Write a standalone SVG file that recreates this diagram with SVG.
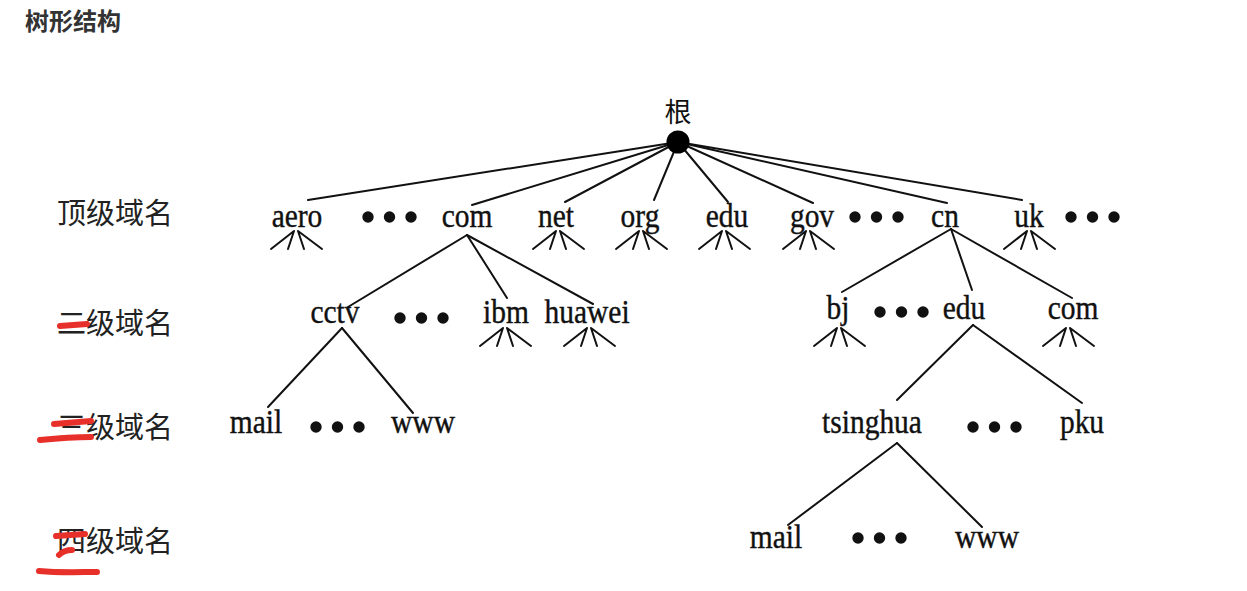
<svg xmlns="http://www.w3.org/2000/svg" xmlns:xlink="http://www.w3.org/1999/xlink" width="1247" height="591" viewBox="0 0 1247 591">
<style>
.lbl{font-family:"Noto Sans CJK SC","Noto Sans",sans-serif;font-size:29px;fill:#222;}
.title{font-family:"Noto Sans CJK SC","Noto Sans",sans-serif;font-size:24px;font-weight:bold;fill:#333;}
.t{font-family:"Liberation Serif","Times New Roman",serif;font-size:29.5px;fill:#111;stroke:#111;stroke-width:0.35;text-anchor:middle;}
.c{stroke:#111;stroke-width:2;fill:none;stroke-linecap:round;}
.dot{fill:#111;}
.red{stroke:#e8302a;stroke-width:6;fill:none;stroke-linecap:round;}
</style>
<defs>
<path id="fan" d="M-2,0 L-25,18 M-2,0 L-8,18 M2,0 L8,18 M2,0 L26,18" class="c"/>
<g id="dots3"><circle cx="0" cy="0" r="5.7"/><circle cx="21.5" cy="0" r="5.7"/><circle cx="43" cy="0" r="5.7"/></g>
</defs>
<rect width="1247" height="591" fill="#ffffff"/>
<text class="title" x="25" y="30">树形结构</text>
<g id="level-labels">
<text class="lbl" x="57" y="224">顶级域名</text>
<text class="lbl" x="57" y="334">二级域名</text>
<text class="lbl" x="57" y="438">三级域名</text>
<text class="lbl" x="57" y="552">四级域名</text>
</g>
<g id="red-marks">
<path class="red" d="M60,326 L87,324"/>
<path class="red" d="M54,424 L91,421"/>
<path class="red" d="M40,440 C60,438 80,437 91,437"/>
<path class="red" d="M56,536 L85,534"/>
<path class="red" d="M59,555 C63,551 68,550 72,550"/>
<path class="red" d="M39,571 C60,573 80,572 97,572"/>
</g>
<g id="connectors">
<line class="c" x1="678" y1="142" x2="308" y2="200"/>
<line class="c" x1="678" y1="142" x2="472" y2="205"/>
<line class="c" x1="678" y1="142" x2="565" y2="202"/>
<line class="c" x1="678" y1="142" x2="654" y2="200"/>
<line class="c" x1="678" y1="142" x2="728" y2="202"/>
<line class="c" x1="678" y1="142" x2="813" y2="203"/>
<line class="c" x1="678" y1="142" x2="947" y2="203"/>
<line class="c" x1="678" y1="142" x2="1022" y2="200"/>
<line class="c" x1="467" y1="235" x2="348" y2="307"/>
<line class="c" x1="467" y1="235" x2="507" y2="298"/>
<line class="c" x1="467" y1="235" x2="593" y2="304"/>
<line class="c" x1="342" y1="328" x2="268" y2="407"/>
<line class="c" x1="342" y1="328" x2="413" y2="413"/>
<line class="c" x1="951" y1="229" x2="842" y2="292"/>
<line class="c" x1="951" y1="229" x2="972" y2="290"/>
<line class="c" x1="951" y1="229" x2="1072" y2="298"/>
<line class="c" x1="973" y1="325" x2="897" y2="400"/>
<line class="c" x1="973" y1="325" x2="1082" y2="403"/>
<line class="c" x1="897" y1="443" x2="788" y2="525"/>
<line class="c" x1="897" y1="443" x2="982" y2="527"/>
<use xlink:href="#fan" x="296" y="231"/>
<use xlink:href="#fan" x="558" y="231"/>
<use xlink:href="#fan" x="641" y="231"/>
<use xlink:href="#fan" x="724" y="231"/>
<use xlink:href="#fan" x="808" y="231"/>
<use xlink:href="#fan" x="1029" y="231"/>
<use xlink:href="#fan" x="505" y="328"/>
<use xlink:href="#fan" x="589" y="328"/>
<use xlink:href="#fan" x="839" y="328"/>
<use xlink:href="#fan" x="1068" y="328"/>
</g>
<g id="root">
<text x="678" y="122" style="font-family:'Noto Sans CJK SC',sans-serif;font-size:27px;fill:#111;text-anchor:middle;">根</text>
<circle cx="678" cy="142" r="11.5" fill="#000"/>
</g>
<g id="n-aero"><text class="t" transform="translate(297,227) scale(1,1.15)">aero</text></g>
<g id="d1" class="dot"><use xlink:href="#dots3" x="368" y="217"/></g>
<g id="n-com"><text class="t" transform="translate(467,227) scale(1,1.15)">com</text></g>
<g id="n-net"><text class="t" transform="translate(556,227) scale(1,1.15)">net</text></g>
<g id="n-org"><text class="t" transform="translate(640,227) scale(1,1.15)">org</text></g>
<g id="n-edu"><text class="t" transform="translate(727,227) scale(1,1.15)">edu</text></g>
<g id="n-gov"><text class="t" transform="translate(812,227) scale(1,1.15)">gov</text></g>
<g id="d2" class="dot"><use xlink:href="#dots3" x="855" y="217"/></g>
<g id="n-cn"><text class="t" transform="translate(945,227) scale(1,1.15)">cn</text></g>
<g id="n-uk"><text class="t" transform="translate(1029,227) scale(1,1.15)">uk</text></g>
<g id="d3" class="dot"><use xlink:href="#dots3" x="1071" y="217"/></g>
<g id="n-cctv"><text class="t" transform="translate(335,323) scale(1,1.15)">cctv</text></g>
<g id="d4" class="dot"><use xlink:href="#dots3" x="400" y="318"/></g>
<g id="n-ibm"><text class="t" transform="translate(506,323) scale(1,1.15)">ibm</text></g>
<g id="n-huawei"><text class="t" transform="translate(587,323) scale(1,1.15)">huawei</text></g>
<g id="n-bj"><text class="t" transform="translate(838,319) scale(1,1.15)">bj</text></g>
<g id="d5" class="dot"><use xlink:href="#dots3" x="880" y="312"/></g>
<g id="n-cn-edu"><text class="t" transform="translate(964,319) scale(1,1.15)">edu</text></g>
<g id="n-cn-com"><text class="t" transform="translate(1073,319) scale(1,1.15)">com</text></g>
<g id="n-mail1"><text class="t" transform="translate(256,433) scale(1,1.15)">mail</text></g>
<g id="d6" class="dot"><use xlink:href="#dots3" x="316" y="427"/></g>
<g id="n-www1"><text class="t" transform="translate(423,433) scale(1,1.15)">www</text></g>
<g id="n-tsinghua"><text class="t" transform="translate(872,433) scale(1,1.15)">tsinghua</text></g>
<g id="d7" class="dot"><use xlink:href="#dots3" x="973" y="427"/></g>
<g id="n-pku"><text class="t" transform="translate(1082,433) scale(1,1.15)">pku</text></g>
<g id="n-mail2"><text class="t" transform="translate(776,548) scale(1,1.15)">mail</text></g>
<g id="d8" class="dot"><use xlink:href="#dots3" x="858" y="538"/></g>
<g id="n-www2"><text class="t" transform="translate(987,548) scale(1,1.15)">www</text></g>
</svg>
